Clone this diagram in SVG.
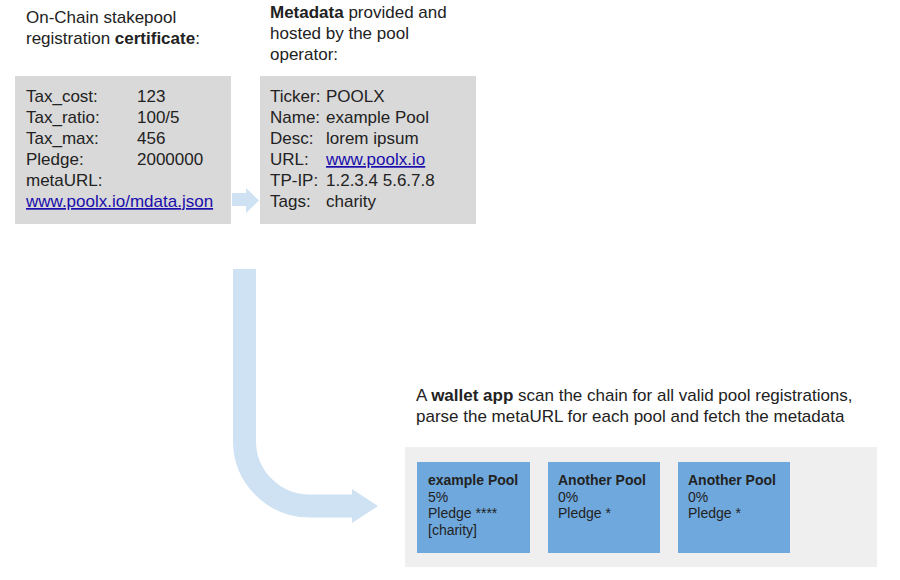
<svg xmlns="http://www.w3.org/2000/svg" width="900" height="580" viewBox="0 0 900 580">
<style>
text{font-family:"Liberation Sans",Arial,sans-serif;fill:#222}
.t{font-size:17px}
.b{font-weight:bold}
.lnk{fill:#1a0dab;text-decoration:underline}
.s{font-size:14px}
.gray{fill:#d9d9d9}
.blue{fill:#6fa8dc}
.flow{fill:#cfe2f3}
</style>
<rect width="900" height="580" fill="#fff"/>
<g id="cert-title">
<text class="t" x="26" y="23">On-Chain stakepool</text>
<text class="t" x="26" y="44">registration <tspan class="b">certificate</tspan>:</text>
</g>
<g id="meta-title">
<text class="t" x="270" y="18">
<tspan class="b">Metadata</tspan> provided and</text>
<text class="t" x="270" y="39">hosted by the pool</text>
<text class="t" x="270" y="60">operator:</text>
</g>
<g id="certificate">
<rect class="gray" x="15" y="76" width="216" height="148"/>
<text class="t" x="26" y="102">Tax_cost:</text><text class="t" x="137" y="102">123</text>
<text class="t" x="26" y="123">Tax_ratio:</text><text class="t" x="137" y="123">100/5</text>
<text class="t" x="26" y="144">Tax_max:</text><text class="t" x="137" y="144">456</text>
<text class="t" x="26" y="165">Pledge:</text><text class="t" x="137" y="165">2000000</text>
<text class="t" x="26" y="186">metaURL:</text>
<text class="t lnk" x="26" y="207">www.poolx.io/mdata.json</text>
</g>
<g id="metadata">
<rect class="gray" x="260" y="76" width="216" height="148"/>
<text class="t" x="270" y="102">Ticker:</text><text class="t" x="326" y="102">POOLX</text>
<text class="t" x="270" y="123">Name:</text><text class="t" x="326" y="123">example Pool</text>
<text class="t" x="270" y="144">Desc:</text><text class="t" x="326" y="144">lorem ipsum</text>
<text class="t" x="270" y="165">URL:</text><text class="t lnk" x="326" y="165">www.poolx.io</text>
<text class="t" x="270" y="186">TP-IP:</text><text class="t" x="326" y="186">1.2.3.4 5.6.7.8</text>
<text class="t" x="270" y="207">Tags:</text><text class="t" x="326" y="207">charity</text>
</g>
<g id="connectors">
<polygon class="flow" points="232,193 246,193 246,188 259,200.5 246,213 246,206 232,206"/>
<path d="M244.5,269 V441 A65,65 0 0 0 309.5,506 H353" fill="none" stroke="#cfe2f3" stroke-width="23"/>
<polygon class="flow" points="352,489 378,506 352,523"/>
</g>
<g id="wallet-caption">
<text class="t" x="416" y="401">A <tspan class="b">wallet app</tspan> scan the chain for all valid pool registrations,</text>
<text class="t" x="416" y="422">parse the metaURL for each pool and fetch the metadata</text>
</g>
<g id="wallet">
<rect x="405" y="447" width="472" height="120" fill="#efefef"/>
</g>
<g id="pool1">
<rect class="blue" x="417" y="462" width="113" height="91"/>
<text class="s b" x="428" y="485">example Pool</text>
<text class="s" x="428" y="502">5%</text>
<text class="s" x="428" y="518">Pledge ****</text>
<text class="s" x="428" y="535">[charity]</text>
</g>
<g id="pool2">
<rect class="blue" x="548" y="462" width="112" height="91"/>
<text class="s b" x="558" y="485">Another Pool</text>
<text class="s" x="558" y="502">0%</text>
<text class="s" x="558" y="518">Pledge *</text>
</g>
<g id="pool3">
<rect class="blue" x="678" y="462" width="112" height="91"/>
<text class="s b" x="688" y="485">Another Pool</text>
<text class="s" x="688" y="502">0%</text>
<text class="s" x="688" y="518">Pledge *</text>
</g>
</svg>
